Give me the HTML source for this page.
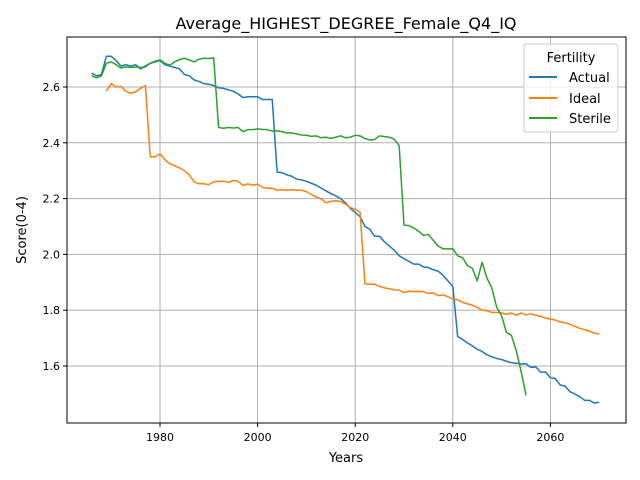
<!DOCTYPE html>
<html><head><meta charset="utf-8">
<style>
html,body{margin:0;padding:0;background:#fff;}
svg{display:block;font-family:"DejaVu Sans","Liberation Sans",sans-serif;}
</style></head>
<body>
<svg id="chart" width="640" height="480" viewBox="0 0 640 480" xmlns="http://www.w3.org/2000/svg">
<rect x="0" y="0" width="640" height="480" fill="#fff"/>
<text x="346" y="29" text-anchor="middle" font-size="16">Average_HIGHEST_DEGREE_Female_Q4_IQ</text>
<g id="grid"></g>
<g id="series"></g>
<rect x="67" y="37" width="559" height="386" fill="none" stroke="#000" stroke-width="1"/>
<g id="ticks"></g>
<text x="346" y="462" text-anchor="middle" font-size="13">Years</text>
<text transform="translate(26,230) rotate(-90)" text-anchor="middle" font-size="13">Score(0-4)</text>
<g>
<rect x="524" y="44" width="94" height="88" rx="3" fill="#fff" fill-opacity="0.8" stroke="#ccc"/>
<text x="571" y="62" text-anchor="middle" font-size="13">Fertility</text>
<line x1="529" y1="77" x2="557" y2="77" stroke="#1f77b4" stroke-width="2"/>
<text x="569" y="82" font-size="13">Actual</text>
<line x1="529" y1="98" x2="557" y2="98" stroke="#ff7f0e" stroke-width="2"/>
<text x="569" y="103" font-size="13">Ideal</text>
<line x1="529" y1="118" x2="557" y2="118" stroke="#2ca02c" stroke-width="2"/>
<text x="569" y="123" font-size="13">Sterile</text>
</g>
</svg>
<script>
const xTicks = [1980, 2000, 2020, 2040, 2060];
const yTicks = [1.6, 1.8, 2.0, 2.2, 2.4, 2.6];
const yTickLabels = ["1.6", "1.8", "2.0", "2.2", "2.4", "2.6"];
const actualStart = 1966;
const actualValues = [2.65,2.64,2.645,2.71,2.71,2.695,2.675,2.68,2.675,2.68,2.665,2.675,2.685,2.69,2.695,2.68,2.675,2.67,2.665,2.645,2.64,2.625,2.62,2.612,2.61,2.605,2.597,2.595,2.59,2.585,2.575,2.562,2.565,2.565,2.565,2.555,2.555,2.555,2.295,2.293,2.285,2.28,2.27,2.267,2.262,2.255,2.248,2.238,2.228,2.218,2.21,2.2,2.185,2.165,2.15,2.135,2.1,2.09,2.065,2.065,2.045,2.03,2.015,1.995,1.985,1.975,1.965,1.965,1.955,1.953,1.945,1.94,1.925,1.905,1.885,1.705,1.695,1.683,1.672,1.66,1.652,1.64,1.633,1.627,1.623,1.617,1.612,1.61,1.607,1.608,1.595,1.597,1.578,1.578,1.558,1.555,1.532,1.528,1.508,1.5,1.49,1.477,1.477,1.467,1.47];
const idealStart = 1969;
const idealValues = [2.585,2.612,2.6,2.602,2.585,2.578,2.583,2.595,2.605,2.35,2.35,2.36,2.34,2.325,2.318,2.31,2.3,2.285,2.26,2.253,2.253,2.25,2.26,2.262,2.262,2.258,2.265,2.262,2.247,2.253,2.248,2.252,2.24,2.237,2.237,2.23,2.232,2.23,2.232,2.23,2.23,2.225,2.215,2.205,2.2,2.185,2.19,2.192,2.19,2.18,2.168,2.162,2.15,1.895,1.893,1.893,1.885,1.88,1.877,1.873,1.872,1.863,1.868,1.867,1.867,1.867,1.86,1.862,1.852,1.855,1.848,1.84,1.838,1.828,1.823,1.818,1.81,1.8,1.798,1.792,1.792,1.79,1.785,1.79,1.782,1.79,1.783,1.787,1.782,1.778,1.772,1.768,1.765,1.758,1.755,1.75,1.742,1.735,1.73,1.725,1.718,1.715];
const sterileStart = 1966;
const sterileValues = [2.64,2.633,2.64,2.685,2.69,2.68,2.668,2.672,2.67,2.672,2.67,2.672,2.685,2.693,2.697,2.685,2.678,2.69,2.698,2.703,2.697,2.69,2.7,2.703,2.702,2.705,2.455,2.452,2.455,2.453,2.455,2.44,2.447,2.447,2.45,2.448,2.447,2.442,2.443,2.44,2.435,2.435,2.432,2.428,2.427,2.423,2.425,2.418,2.42,2.416,2.42,2.425,2.418,2.42,2.427,2.425,2.415,2.41,2.412,2.425,2.422,2.42,2.413,2.39,2.105,2.103,2.095,2.083,2.068,2.072,2.05,2.03,2.02,2.02,2.02,1.995,1.988,1.96,1.95,1.905,1.972,1.915,1.88,1.81,1.78,1.72,1.71,1.655,1.58,1.495];

const NS = "http://www.w3.org/2000/svg";
const X0 = 67, X1 = 626, Y0 = 37, Y1 = 423;
const xMin = 1960.94, xMax = 2075.49, yMin = 1.3957, yMax = 2.7792;
function xs(v){ return X0 + (v - xMin) / (xMax - xMin) * (X1 - X0); }
function ys(v){ return Y1 - (v - yMin) / (yMax - yMin) * (Y1 - Y0); }

const grid = document.getElementById('grid');
const ticks = document.getElementById('ticks');
function mk(tag, attrs, parent){
  const e = document.createElementNS(NS, tag);
  for (const k in attrs) e.setAttribute(k, attrs[k]);
  parent.appendChild(e); return e;
}
xTicks.forEach(t => {
  const x = xs(t);
  const g = mk('line', {x1:x, x2:x, y1:Y0, y2:Y1, stroke:'#b0b0b0', 'stroke-width':1}, grid);
  
  
  const tk = mk('line', {x1:x, x2:x, y1:Y1, y2:Y1+4, stroke:'#000'}, ticks);
  
  
  const lb = mk('text', {x:x, y:Y1+18, 'text-anchor':'middle', 'font-size':11}, ticks);
  lb.textContent = String(t);
  
  
});
yTicks.forEach((t, i) => {
  const y = ys(t);
  const g = mk('line', {x1:X0, x2:X1, y1:y, y2:y, stroke:'#b0b0b0', 'stroke-width':1}, grid);
  
  
  const tk = mk('line', {x1:X0-4, x2:X0, y1:y, y2:y, stroke:'#000'}, ticks);
  
  
  const lb = mk('text', {x:X0-7, y:y+4, 'text-anchor':'end', 'font-size':11}, ticks);
  lb.textContent = yTickLabels[i];
  
  
});
const seriesG = document.getElementById('series');
function drawLine(start, vals, color, name){
  const pts = vals.map((v, i) => xs(start + i).toFixed(2) + ',' + ys(v).toFixed(2)).join(' ');
  const p = mk('polyline', {points:pts, fill:'none', stroke:color, 'stroke-width':1.5, 'stroke-linejoin':'round'}, seriesG);
  
  
}
drawLine(actualStart, actualValues, '#1f77b4', 'actual-line');
drawLine(idealStart, idealValues, '#ff7f0e', 'ideal-line');
drawLine(sterileStart, sterileValues, '#2ca02c', 'sterile-line');
</script>
</body></html>
